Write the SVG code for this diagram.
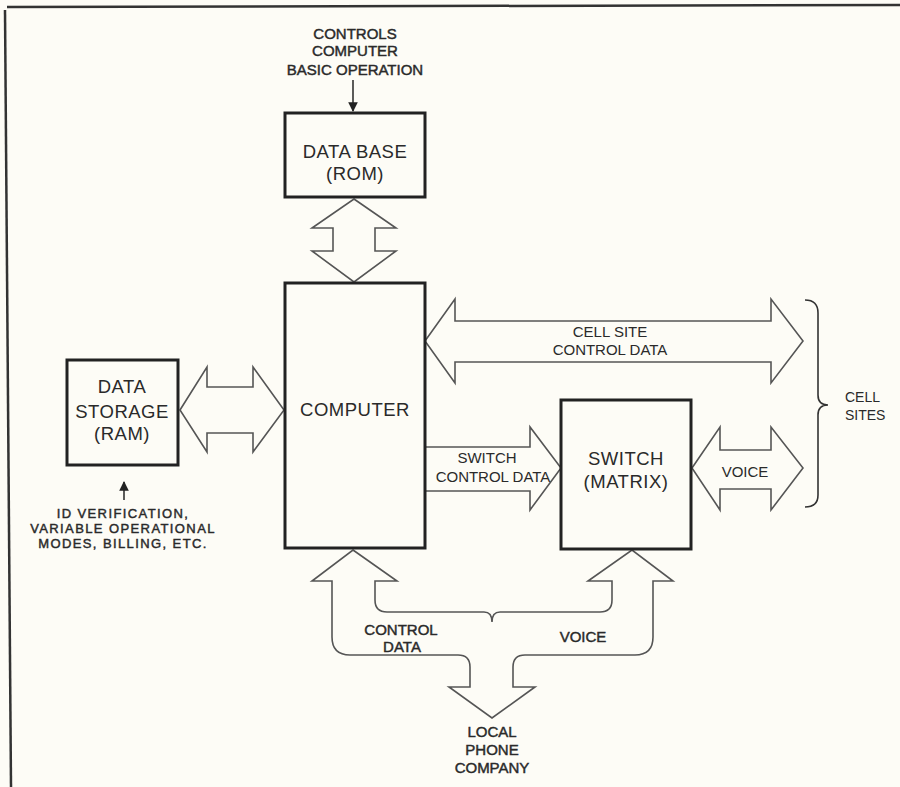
<svg xmlns="http://www.w3.org/2000/svg" width="900" height="787" viewBox="0 0 900 787">
<defs>
<style>
.bg{fill:#fdfcf6}
.box{fill:none;stroke:#222;stroke-width:3}
.arr{fill:none;stroke:#555;stroke-width:1.6;stroke-linejoin:miter}
.ln{fill:none;stroke:#333;stroke-width:1.6}
.frame{fill:none;stroke:#333;stroke-width:2.5}
text{font-family:"Liberation Sans",Arial,sans-serif;fill:#2a2a2a;text-anchor:middle}
.big{font-size:18.5px;letter-spacing:0.5px}
.sm{font-size:15px}
.smb{font-size:15px;fill:#2a2a2a;stroke:#2a2a2a;stroke-width:0.45}
.id{font-size:13px;letter-spacing:1.4px;fill:#2a2a2a;stroke:#2a2a2a;stroke-width:0.45}
</style>
<marker id="ah" viewBox="0 0 10 10" refX="9" refY="5" markerWidth="6" markerHeight="6" orient="auto" markerUnits="strokeWidth">
<path d="M0,0 L10,5 L0,10 Z" fill="#222"/>
</marker>
</defs>
<rect class="bg" x="0" y="0" width="900" height="787"/>
<g id="frame">
<line class="frame" x1="7" y1="7" x2="900" y2="5"/>
<line class="frame" x1="5" y1="10" x2="11" y2="787"/>
</g>
<g id="connectors">
<line class="ln" x1="353" y1="80" x2="353" y2="111" marker-end="url(#ah)"/>
<line class="ln" x1="124" y1="500" x2="124" y2="482" marker-end="url(#ah)"/>
<polygon class="arr" points="354,199 396,228 375,228 375,251 396,251 354,282 312,251 333,251 333,228 312,228"/>
<polygon class="arr" points="180,410 207,367 207,387 253,387 253,367 284,410 253,452 253,433 207,433 207,452"/>
<polygon class="arr" points="425,341 455,299 455,321 771,321 771,299 803,341 771,383 771,362 455,362 455,383"/>
<polyline class="arr" points="425,447 530,447 530,427 561,468 530,510 530,491 425,491"/>
<polygon class="arr" points="692,468 720,427 720,450 771,450 771,427 803,468 771,510 771,489 720,489 720,510"/>
<path class="arr" d="M353,550 L397,581 L375,581 L375,600 Q375,612 387,612 L484,612 Q492,612 492,622 Q492,612 500,612 L600,612 Q612,612 612,600 L612,581 L588,581 L632,550 L673,581 L653,581 L653,637 Q653,655 635,655 L525,655 Q513,655 513,667 L513,687 L535,687 L492,718 L449,687 L470,687 L470,667 Q470,655 458,655 L350,655 Q332,655 332,637 L332,581 L312,581 Z"/>
<path class="ln" d="M805,300 Q818,300 818,313 L818,395 Q818,405 828,405 Q818,405 818,415 L818,495 Q818,507 805,507"/>
</g>
<g id="database">
<rect class="box" x="285" y="113" width="140" height="84"/>
<text class="big" x="355" y="158">DATA BASE</text>
<text class="big" x="355" y="180">(ROM)</text>
</g>
<g id="computer">
<rect class="box" x="285" y="283" width="140" height="265"/>
<text class="big" x="355" y="416">COMPUTER</text>
</g>
<g id="storage">
<rect class="box" x="67" y="360" width="111" height="105"/>
<text class="big" x="122" y="393">DATA</text>
<text class="big" x="122" y="418">STORAGE</text>
<text class="big" x="122" y="440">(RAM)</text>
</g>
<g id="switch">
<rect class="box" x="561" y="400" width="130" height="149"/>
<text class="big" x="626" y="465">SWITCH</text>
<text class="big" x="626" y="488">(MATRIX)</text>
</g>
<g id="labels">
<text class="smb" x="355" y="39">CONTROLS</text>
<text class="smb" x="355" y="56">COMPUTER</text>
<text class="smb" x="355" y="75">BASIC OPERATION</text>
<text class="id" x="123" y="518">ID VERIFICATION,</text>
<text class="id" x="123" y="533">VARIABLE OPERATIONAL</text>
<text class="id" x="123" y="548">MODES, BILLING, ETC.</text>
<text class="sm" x="610" y="337">CELL SITE</text>
<text class="sm" x="610" y="355">CONTROL DATA</text>
<text class="sm" x="487" y="463">SWITCH</text>
<text class="sm" x="493" y="482">CONTROL DATA</text>
<text class="sm" x="745" y="477">VOICE</text>
<text class="sm" x="845" y="402" style="text-anchor:start;font-size:14px">CELL</text>
<text class="sm" x="845" y="420" style="text-anchor:start;font-size:14px">SITES</text>
<text class="smb" x="401" y="635">CONTROL</text>
<text class="smb" x="402" y="652">DATA</text>
<text class="smb" x="583" y="642">VOICE</text>
<text class="smb" x="492" y="737">LOCAL</text>
<text class="smb" x="492" y="755">PHONE</text>
<text class="smb" x="492" y="773">COMPANY</text>
</g>
</svg>
